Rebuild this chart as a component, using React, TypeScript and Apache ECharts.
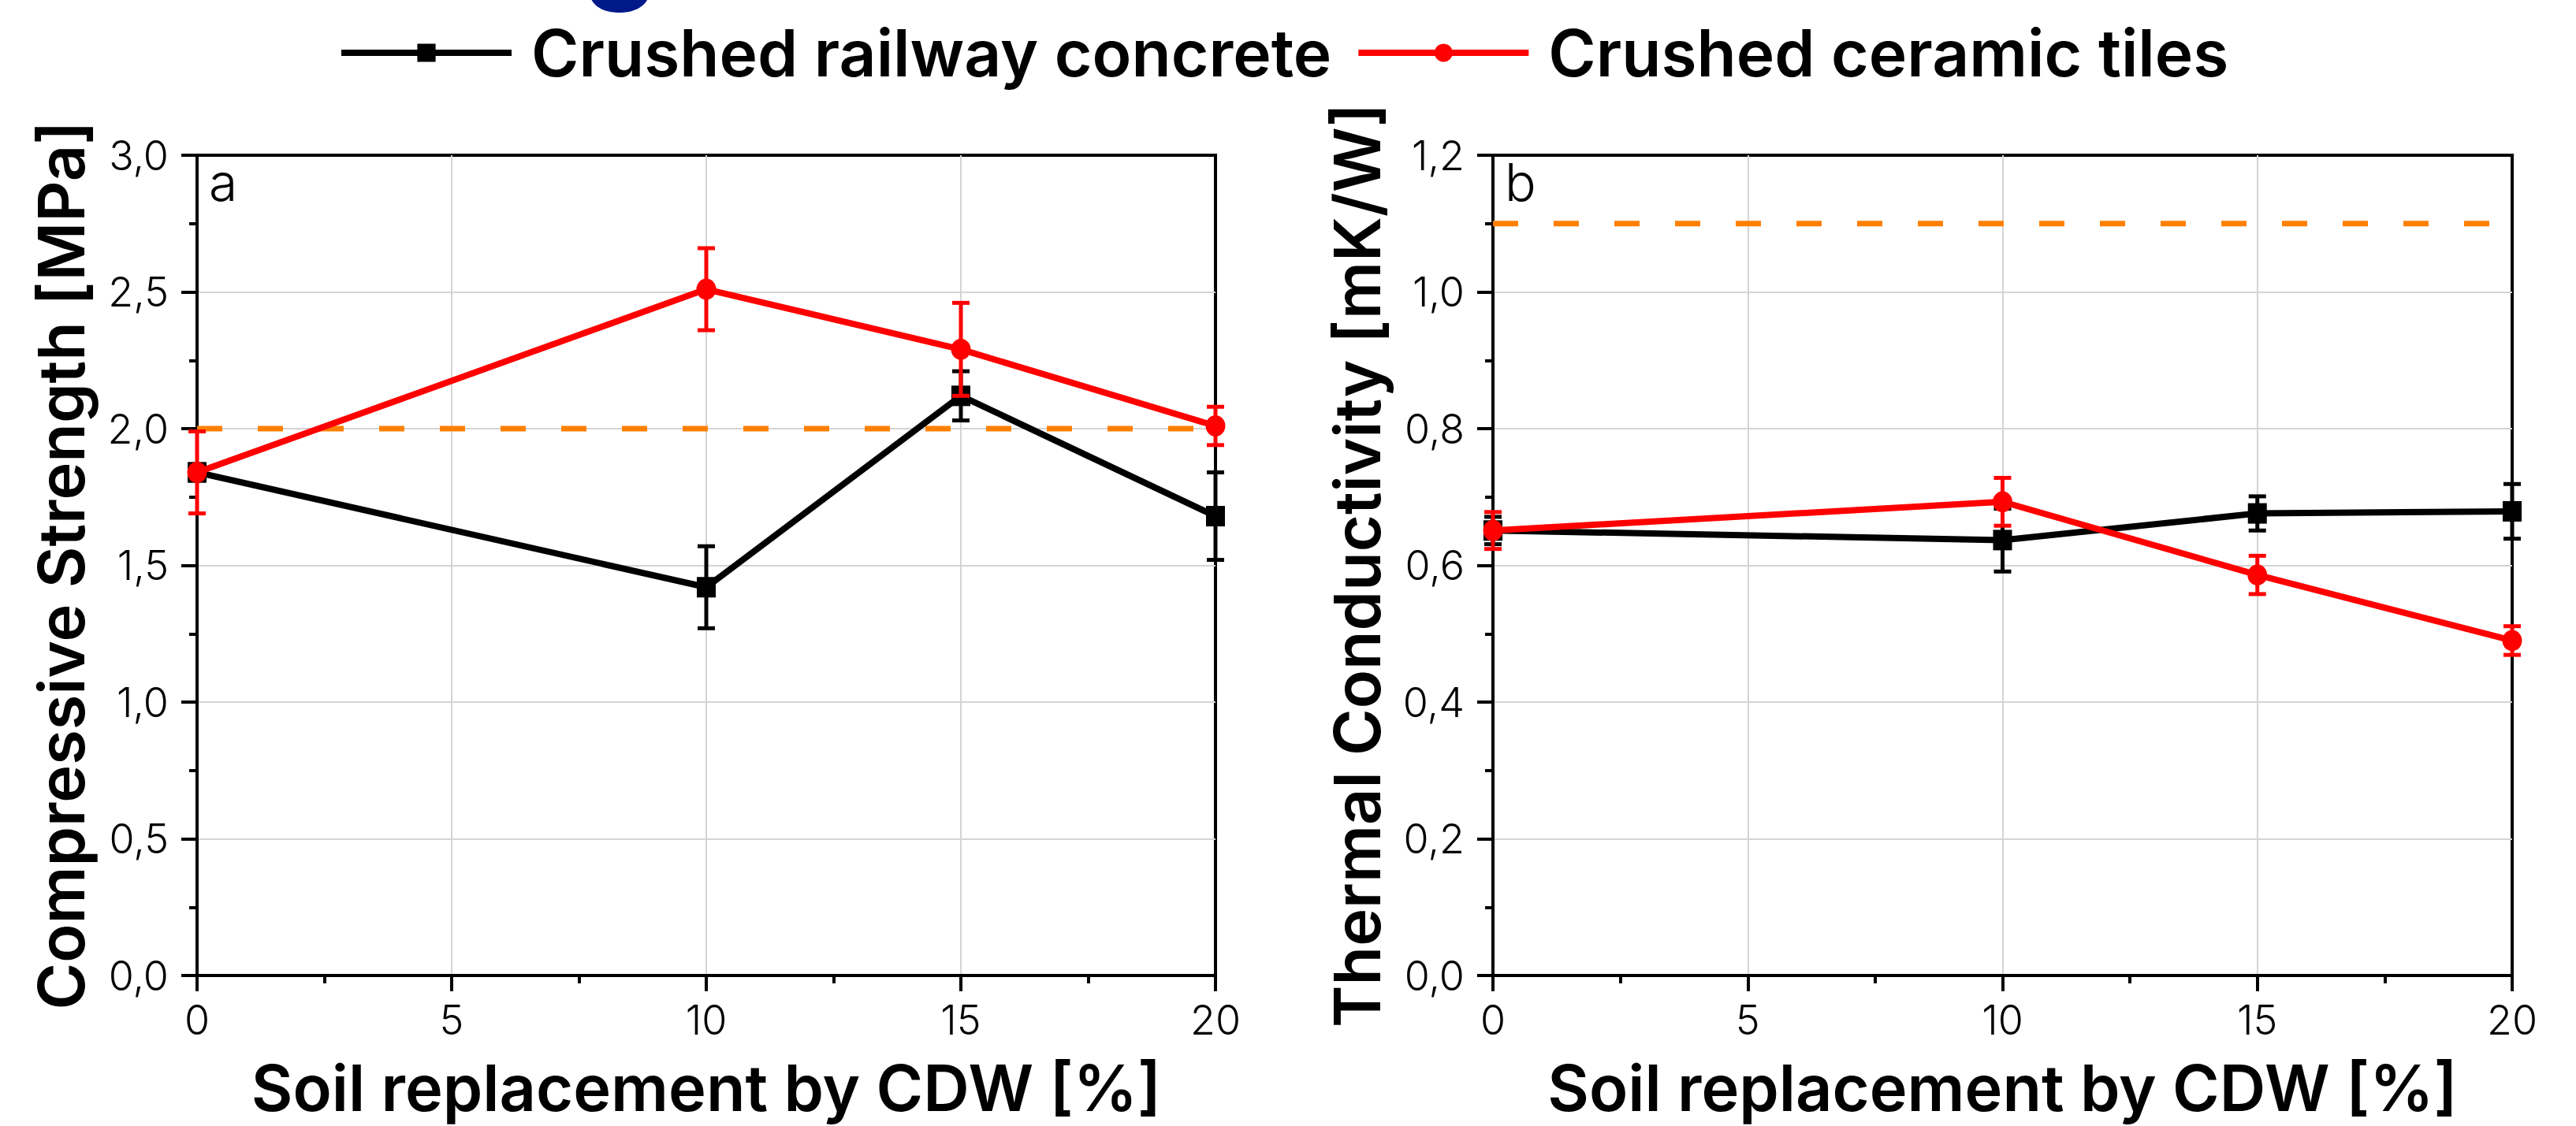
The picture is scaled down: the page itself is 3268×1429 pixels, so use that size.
import React, { useEffect, useRef } from "react";
import * as echarts from "echarts";

// ---- data ----
const xValues = [0, 10, 15, 20];
const seriesNames = ["Crushed railway concrete", "Crushed ceramic tiles"];

const csRailway = [1.84, 1.42, 2.12, 1.68];
const csRailwayErr = [0.03, 0.15, 0.09, 0.16];
const csCeramic = [1.84, 2.51, 2.29, 2.01];
const csCeramicErr = [0.15, 0.15, 0.17, 0.07];
const csLimit = 2.0;

const tcRailway = [0.651, 0.637, 0.676, 0.679];
const tcRailwayErr = [0.02, 0.046, 0.025, 0.04];
const tcCeramic = [0.651, 0.693, 0.586, 0.49];
const tcCeramicErr = [0.027, 0.035, 0.028, 0.021];
const tcLimit = 1.1;

const xRange = [0, 20];
const xTickStep = 5;
const csRange = [0, 3.0];
const csTickStep = 0.5;
const tcRange = [0, 1.2];
const tcTickStep = 0.2;

const xTitle = "Soil replacement by CDW [%]";
const csTitle = "Compressive Strength [MPa]";
const tcTitle = "Thermal Conductivity [mK/W]";

const BLACK = "#000000";
const RED = "#ff0000";
const ORANGE = "#ff8000";
const NAVY = "#001a8a";
const FONT = "Inter";

function pts(ys: number[]) {
  return xValues.map((x, i) => [x, ys[i]]);
}
function errPts(ys: number[], es: number[]) {
  return xValues.map((x, i) => [x, ys[i], es[i]]);
}

function errorSeries(color: string, data: number[][], axisIdx: number, z: number) {
  return {
    type: "custom",
    xAxisIndex: axisIdx,
    yAxisIndex: axisIdx,
    z,
    silent: true,
    encode: { x: 0, y: 1 },
    data,
    renderItem: (params: any, api: any) => {
      const x = api.value(0);
      const y = api.value(1);
      const e = api.value(2);
      const top = api.coord([x, y + e]);
      const bot = api.coord([x, y - e]);
      const cap = 11;
      const style = { stroke: color, lineWidth: 5 };
      return {
        type: "group",
        children: [
          { type: "line", shape: { x1: top[0], y1: top[1], x2: bot[0], y2: bot[1] }, style },
          { type: "line", shape: { x1: top[0] - cap, y1: top[1], x2: top[0] + cap, y2: top[1] }, style },
          { type: "line", shape: { x1: bot[0] - cap, y1: bot[1], x2: bot[0] + cap, y2: bot[1] }, style },
        ],
      };
    },
  };
}

function lineSeries(name: string, color: string, symbol: string, size: any, data: number[][], axisIdx: number, z: number) {
  return {
    type: "line",
    name,
    xAxisIndex: axisIdx,
    yAxisIndex: axisIdx,
    z,
    data,
    symbol,
    symbolSize: size,
    showSymbol: true,
    lineStyle: { color, width: 8 },
    itemStyle: { color },
    emphasis: { disabled: true },
  };
}

function limitSeries(value: number, axisIdx: number) {
  return {
    type: "line",
    xAxisIndex: axisIdx,
    yAxisIndex: axisIdx,
    z: 1,
    data: [[xRange[0], value], [xRange[1], value]],
    symbol: "none",
    lineStyle: { color: ORANGE, width: 7, type: [32, 45] },
    silent: true,
  };
}

const fmt1 = (v: number) => v.toFixed(1).replace(".", ",");

function xAxisCfg(gridIndex: number) {
  return {
    type: "value",
    gridIndex,
    min: xRange[0],
    max: xRange[1],
    interval: xTickStep,
    name: xTitle,
    nameLocation: "middle",
    nameGap: 102,
    nameTextStyle: { fontFamily: FONT, fontWeight: 600, fontSize: 81, color: BLACK },
    axisLine: { show: true, onZero: false, lineStyle: { color: BLACK, width: 4 } },
    axisTick: { show: true, length: 20, lineStyle: { color: BLACK, width: 4 } },
    minorTick: { show: true, splitNumber: 2, length: 10, lineStyle: { color: BLACK, width: 4 } },
    splitLine: { show: true, showMinLine: false, showMaxLine: false, lineStyle: { color: "#d4d4d4", width: 2 } },
    axisLabel: { margin: 30, fontFamily: FONT, fontWeight: 300, fontSize: 52, color: BLACK, formatter: (v: number) => String(v) },
  };
}

function yAxisCfg(gridIndex: number, range: number[], step: number, title: string) {
  return {
    type: "value",
    gridIndex,
    min: range[0],
    max: range[1],
    interval: step,
    name: title,
    nameLocation: "middle",
    nameGap: 132,
    nameTextStyle: { fontFamily: FONT, fontWeight: 600, fontSize: 81, color: BLACK },
    axisLine: { show: true, onZero: false, lineStyle: { color: BLACK, width: 4 } },
    axisTick: { show: true, length: 20, lineStyle: { color: BLACK, width: 4 } },
    minorTick: { show: true, splitNumber: 2, length: 10, lineStyle: { color: BLACK, width: 4 } },
    splitLine: { show: true, showMinLine: false, showMaxLine: false, lineStyle: { color: "#d4d4d4", width: 2 } },
    axisLabel: { margin: 36, fontFamily: FONT, fontWeight: 300, fontSize: 52, color: BLACK, formatter: fmt1 },
  };
}

export default function App() {
  const ref = useRef<HTMLDivElement>(null);
  useEffect(() => {
    if (!ref.current) return;
    const chart = echarts.init(ref.current, null, { renderer: "svg" });
    const option: any = {
      animation: false,
      backgroundColor: "#ffffff",
      textStyle: { fontFamily: FONT },
      legend: {
        data: seriesNames,
        left: 429,
        top: 26,
        padding: 0,
        itemWidth: 216,
        itemHeight: 29,
        itemGap: 30,
        selectedMode: false,
        lineStyle: { width: 8 },
        textStyle: { fontFamily: FONT, fontWeight: 600, fontSize: 82, color: BLACK, padding: [0, 0, 0, 20] },
      },
      grid: [
        { left: 250, right: 1726, top: 197, bottom: 191, show: true, borderColor: BLACK, borderWidth: 4, containLabel: false },
        { left: 1894, right: 81, top: 197, bottom: 191, show: true, borderColor: BLACK, borderWidth: 4, containLabel: false },
      ],
      xAxis: [xAxisCfg(0), xAxisCfg(1)],
      yAxis: [yAxisCfg(0, csRange, csTickStep, csTitle), yAxisCfg(1, tcRange, tcTickStep, tcTitle)],
      graphic: [
        { type: "text", left: 740, top: -146, z: 10, style: { text: "g", fontFamily: FONT, fontWeight: 700, fontSize: 150, fill: NAVY } },
        { type: "text", left: 265, top: 198, z: 10, style: { text: "a", fontFamily: FONT, fontWeight: 300, fontSize: 66, fill: BLACK } },
        { type: "text", left: 1909, top: 198, z: 10, style: { text: "b", fontFamily: FONT, fontWeight: 300, fontSize: 66, fill: BLACK } },
      ],
      series: [
        limitSeries(csLimit, 0),
        lineSeries(seriesNames[0], BLACK, "rect", [24, 26], pts(csRailway), 0, 2),
        errorSeries(BLACK, errPts(csRailway, csRailwayErr), 0, 3),
        lineSeries(seriesNames[1], RED, "circle", [25, 27], pts(csCeramic), 0, 4),
        errorSeries(RED, errPts(csCeramic, csCeramicErr), 0, 5),
        limitSeries(tcLimit, 1),
        lineSeries(seriesNames[0], BLACK, "rect", [24, 26], pts(tcRailway), 1, 2),
        errorSeries(BLACK, errPts(tcRailway, tcRailwayErr), 1, 3),
        lineSeries(seriesNames[1], RED, "circle", [25, 27], pts(tcCeramic), 1, 4),
        errorSeries(RED, errPts(tcCeramic, tcCeramicErr), 1, 5),
      ],
    };
    chart.setOption(option);
    return () => chart.dispose();
  }, []);
  return (
    <div
      ref={ref}
      style={{ position: "fixed", left: 0, top: 0, width: 3268, height: 1429, background: "#fff" }}
    />
  );
}
